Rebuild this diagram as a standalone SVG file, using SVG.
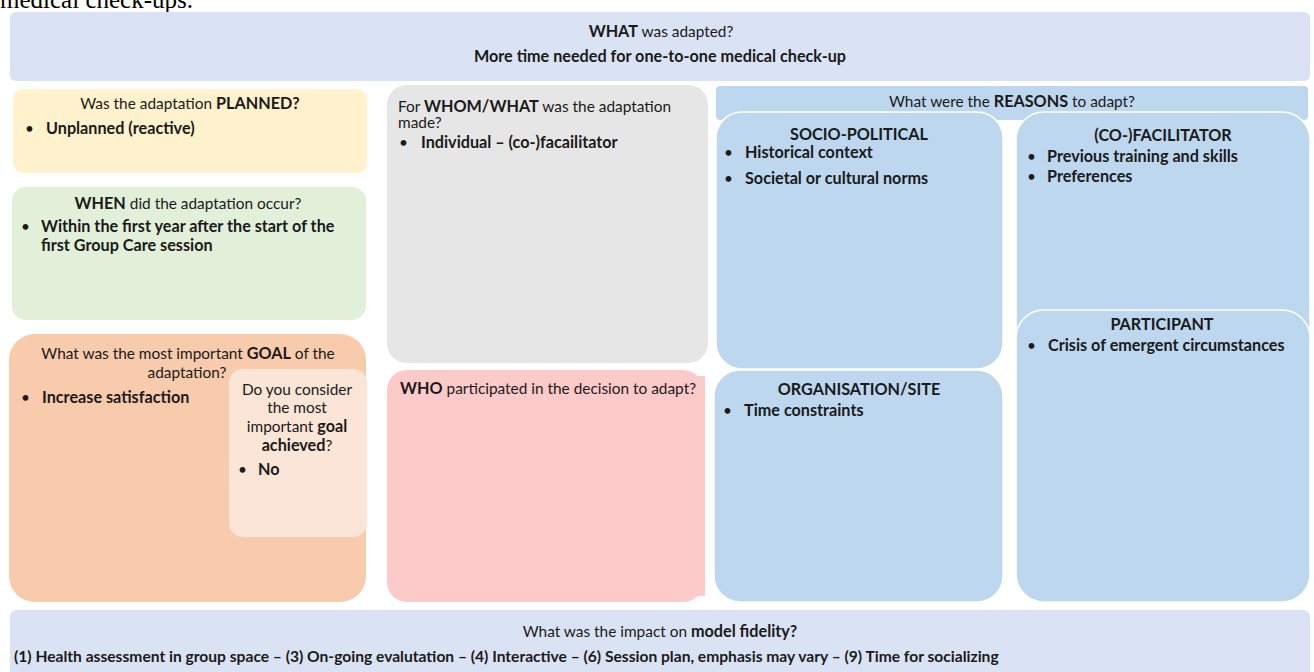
<svg xmlns="http://www.w3.org/2000/svg" width="1314" height="672" viewBox="0 0 1314 672">
  <style>
    .t { font-family: Lato, "Liberation Sans", sans-serif; font-size: 15.4px; fill: #1a1a1a; }
    .b { font-weight: bold; font-size: 16.2px; }
    .c { text-anchor: middle; }
    .blue { fill: #bdd7ee; }
    .reason { fill: #bdd7ee; stroke: #ffffff; stroke-width: 1.5; }
    .band { fill: #dae3f3; }
  </style>
  <rect x="0" y="0" width="1314" height="672" fill="#ffffff"/>

  <!-- running text above the canvas, clipped at the top edge -->
  <text x="0" y="8" font-family="'Liberation Serif', serif" font-size="25" fill="#000">medical check-ups.</text>

  <!-- WHAT -->
  <g id="what">
    <rect class="band" x="10" y="12" width="1300" height="69" rx="6"/>
    <text class="t c" x="661" y="37"><tspan class="b">WHAT</tspan> was adapted?</text>
    <text class="t c b" x="660" y="62">More time needed for one-to-one medical check-up</text>
  </g>

  <!-- PLANNED -->
  <g id="planned">
    <rect x="13" y="89" width="354" height="84" rx="10" fill="#fff2cc"/>
    <text class="t c" x="190" y="109">Was the adaptation <tspan class="b">PLANNED?</tspan></text>
    <text class="t" x="25" y="134">•</text>
    <text class="t b" x="46" y="134">Unplanned (reactive)</text>
  </g>

  <!-- WHEN -->
  <g id="when">
    <rect x="12" y="187" width="354" height="133" rx="14" fill="#e2f0d9"/>
    <text class="t c" x="188" y="209"><tspan class="b">WHEN</tspan> did the adaptation occur?</text>
    <text class="t" x="21" y="232">•</text>
    <text class="t b" x="41" y="232">Within the first year after the start of the</text>
    <text class="t b" x="41" y="251">first Group Care session</text>
  </g>

  <!-- GOAL -->
  <g id="goal">
    <rect x="9" y="334" width="357" height="268" rx="26" fill="#f8cbad"/>
    <text class="t c" x="188" y="359">What was the most important <tspan class="b">GOAL</tspan> of the</text>
    <text class="t c" x="187" y="378">adaptation?</text>
    <text class="t" x="21" y="403">•</text>
    <text class="t b" x="42" y="403">Increase satisfaction</text>
  </g>

  <!-- GOAL ACHIEVED -->
  <g id="achieved">
    <rect x="229" y="369" width="138" height="168" rx="14" fill="#fbe5d6"/>
    <text class="t c" x="297" y="395">Do you consider</text>
    <text class="t c" x="297" y="413">the most</text>
    <text class="t c" x="297" y="432">important <tspan class="b">goal</tspan></text>
    <text class="t c" x="297" y="451"><tspan class="b">achieved</tspan>?</text>
    <text class="t" x="238" y="475">•</text>
    <text class="t b" x="258" y="475">No</text>
  </g>

  <!-- WHOM / WHAT -->
  <g id="whom">
    <rect x="387" y="85" width="321" height="278" rx="20" fill="#e7e6e6"/>
    <text class="t" x="398" y="112">For <tspan class="b">WHOM/WHAT</tspan> was the adaptation</text>
    <text class="t" x="398" y="128">made?</text>
    <text class="t" x="399" y="148">•</text>
    <text class="t b" x="421" y="148">Individual – (co-)facailitator</text>
  </g>

  <!-- WHO -->
  <g id="who">
    <rect x="387" y="370" width="316" height="232" rx="20" fill="#fdcaca"/>
    <rect x="420" y="376" width="285" height="220" fill="#fdcaca"/>
    <text class="t" x="400" y="394"><tspan class="b">WHO</tspan> participated in the decision to adapt?</text>
  </g>

  <!-- REASONS -->
  <g id="reasons">
    <rect class="blue" x="716" y="86" width="592" height="34" rx="4"/>
    <text class="t c" x="1012" y="107">What were the <tspan class="b">REASONS</tspan> to adapt?</text>
  </g>

  <g id="socio-political">
    <rect class="reason" x="716" y="112" width="287" height="257" rx="26"/>
    <text class="t c b" x="859" y="140">SOCIO-POLITICAL</text>
    <text class="t" x="724" y="158">•</text>
    <text class="t b" x="745" y="158">Historical context</text>
    <text class="t" x="724" y="184">•</text>
    <text class="t b" x="745" y="184">Societal or cultural norms</text>
  </g>

  <g id="organisation">
    <rect class="reason" x="714" y="370" width="289" height="232" rx="26"/>
    <text class="t c b" x="859" y="395">ORGANISATION/SITE</text>
    <text class="t" x="723" y="416">•</text>
    <text class="t b" x="744" y="416">Time constraints</text>
  </g>

  <g id="cofacilitator">
    <rect class="reason" x="1016" y="112" width="294" height="470" rx="28"/>
    <text class="t c b" x="1163" y="141">(CO-)FACILITATOR</text>
    <text class="t" x="1027" y="162">•</text>
    <text class="t b" x="1047" y="162">Previous training and skills</text>
    <text class="t" x="1027" y="182">•</text>
    <text class="t b" x="1047" y="182">Preferences</text>
  </g>

  <g id="participant">
    <rect class="reason" x="1016" y="310" width="294" height="292" rx="28"/>
    <text class="t c b" x="1162" y="330">PARTICIPANT</text>
    <text class="t" x="1027" y="351">•</text>
    <text class="t b" x="1048" y="351">Crisis of emergent circumstances</text>
  </g>

  <!-- FIDELITY -->
  <g id="fidelity">
    <rect class="band" x="10" y="610" width="1300" height="80" rx="6"/>
    <text class="t c" x="660" y="637">What was the impact on <tspan class="b">model fidelity?</tspan></text>
    <text class="t b" x="14" y="662" style="font-size:15.6px">(1) Health assessment in group space – (3) On-going evalutation – (4) Interactive – (6) Session plan, emphasis may vary – (9) Time for socializing</text>
  </g>

  <g id="connectors"/>
</svg>
